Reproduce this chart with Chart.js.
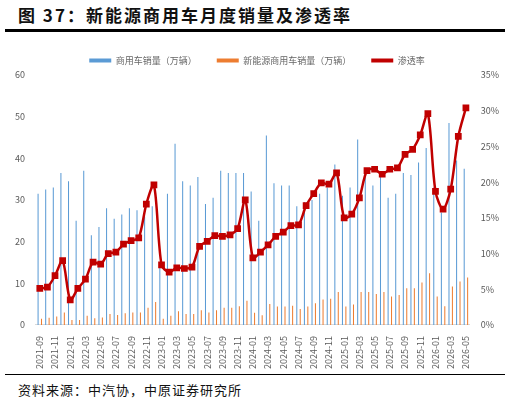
<!DOCTYPE html>
<html><head><meta charset="utf-8">
<script src="https://cdn.jsdelivr.net/npm/chart.js@4"></script>
<style>
body{margin:0;width:510px;height:409px;background:#fff;font-family:"Noto Sans CJK SC",sans-serif;position:relative;overflow:hidden}
#t{position:absolute;left:18px;top:2px;font-size:17px;font-weight:bold;letter-spacing:2px;color:#111}
#l1{position:absolute;left:5px;top:29px;width:500px;height:3px;background:#000}
#l2{position:absolute;left:5px;top:374px;width:500px;height:1px;background:#000}
#s{position:absolute;left:18px;top:380px;font-size:13px;letter-spacing:1px;color:#111}
#c{position:absolute;left:0;top:36px;width:510px;height:336px}
</style></head><body>
<div id="t">图 37：新能源商用车月度销量及渗透率</div><div id="l1"></div>
<div id="c"><canvas id="cv"></canvas></div>
<div id="l2"></div><div id="s">资料来源：中汽协，中原证券研究所</div>
<script>
const months=[];for(let y=2021,m=9;months.length<57;){months.push(y+'-'+String(m).padStart(2,'0'));m++;if(m>12){m=1;y++;}}
const totalSales=[31.5,32.5,33,36.5,34.5,25,37,21.5,23.5,28,25.5,26.5,28,27.5,26,28.5,14,31.5,43.5,34.5,33.5,35.5,29,30.5,37,36.5,36.5,36.5,32,25,45.5,34,33.5,33.5,28.5,29.5,30,31.5,33,38.5,31,33,44.5,36,33.5,36.5,30.5,31.5,36.5,36,39,42.5,33,27,48.5,39.5,37.5];
const nevSales=[1.5,1.7,2.0,3.0,1.2,1.2,2.2,1.6,1.8,2.6,2.4,2.8,3.0,3.0,4.1,5.5,1.5,2.2,3.3,2.6,2.6,3.5,3.0,3.5,4.1,4.1,4.5,5.8,2.9,2.3,5.0,4.4,4.4,4.6,3.8,4.4,5.2,6.1,6.3,7.9,4.4,4.9,7.9,7.9,7.4,7.9,6.8,7.2,8.8,8.8,10.2,12.4,6.8,4.5,9.2,10.4,11.4];
const penetration=[5.1,5.3,6.9,9.0,3.5,5.1,6.4,8.8,8.5,10.0,10.2,11.3,11.8,12.2,16.9,19.6,8.4,7.4,8.0,7.9,8.1,11.0,11.7,12.5,12.4,12.6,13.5,17.5,9.4,10.2,11.2,12.4,13.0,13.9,14.0,16.7,18.4,19.9,19.7,21.3,15.0,15.5,17.8,21.6,21.8,21.1,21.8,22.0,23.9,24.6,26.6,29.6,18.7,16.2,19.0,26.4,30.4];
const tf={family:"Noto Sans CJK SC",size:9};
new Chart(document.getElementById('cv'),{data:{labels:months,datasets:[
{type:'line',label:'渗透率',data:penetration,yAxisID:'y1',borderColor:'#c00000',backgroundColor:'#c00000',borderWidth:2.5,pointStyle:'rect',pointRadius:3,tension:0.3,order:0},
{type:'bar',label:'商用车销量（万辆）',data:totalSales,backgroundColor:'#5b9bd5',barPercentage:0.3,categoryPercentage:0.9,order:1},
{type:'bar',label:'新能源商用车销量（万辆）',data:nevSales,backgroundColor:'#ed7d31',barPercentage:0.3,categoryPercentage:0.9,order:1}]},
options:{responsive:true,maintainAspectRatio:false,animation:false,layout:{padding:{left:12,right:8,top:0,bottom:0}},
plugins:{legend:{position:'top',labels:{font:tf,color:'#666',boxWidth:22,boxHeight:4,padding:20,
generateLabels:c=>{const d=c.data.datasets;return [1,2,0].map(i=>({text:d[i].label,fillStyle:d[i].backgroundColor,strokeStyle:d[i].backgroundColor,lineWidth:0,datasetIndex:i,fontColor:'#666'}));}}},tooltip:{enabled:false}},
scales:{x:{grid:{display:false},border:{color:'#d9d9d9'},ticks:{font:tf,color:'#595959',maxRotation:90,minRotation:90,autoSkip:false,callback:(v,i)=>i%2==0?months[i]:''}},
y:{position:'left',min:0,max:60,ticks:{stepSize:10,font:tf,color:'#595959'},grid:{display:false},border:{display:false}},
y1:{position:'right',min:0,max:0.35*100,ticks:{stepSize:5,font:tf,color:'#595959',callback:v=>v+'%'},grid:{display:false},border:{display:false}}}}});
</script></body></html>
